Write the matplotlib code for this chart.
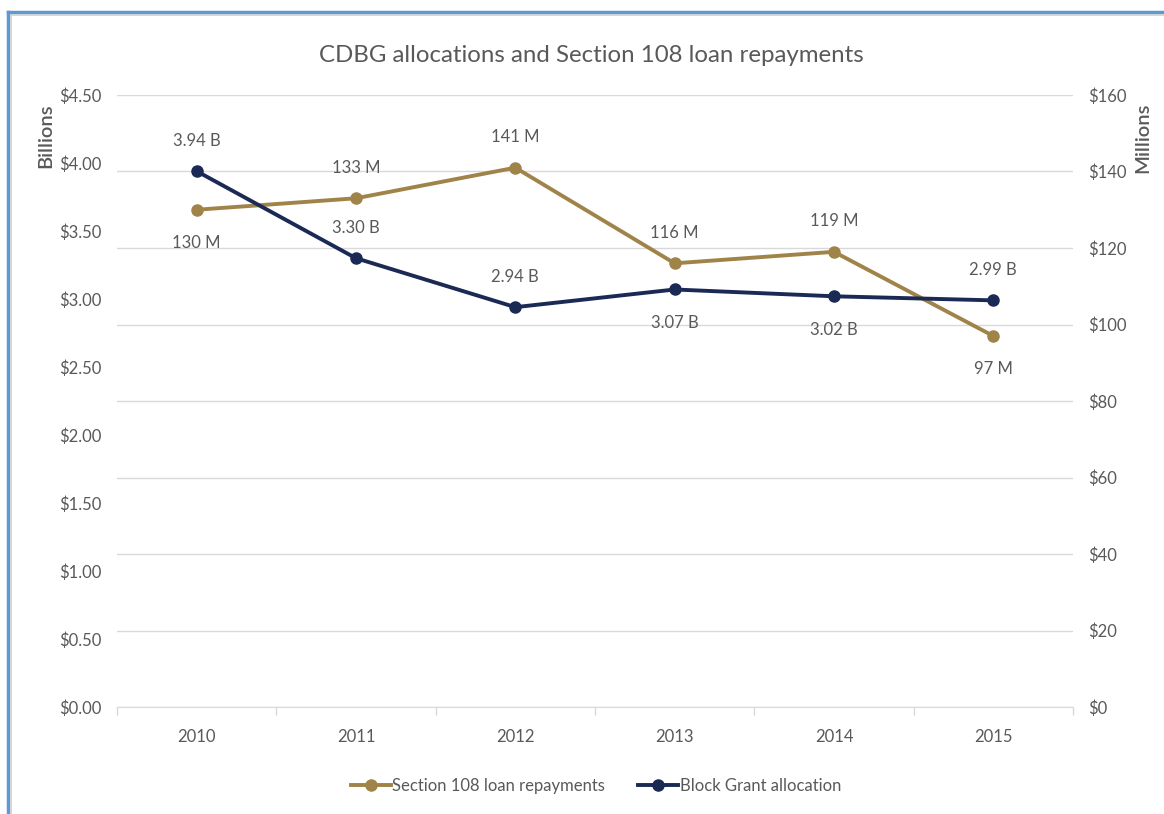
import matplotlib
matplotlib.use("Agg")
import matplotlib.pyplot as plt
from matplotlib.lines import Line2D

plt.rcParams['font.family'] = ['Lato', 'DejaVu Sans']

years = ['2010', '2011', '2012', '2013', '2014', '2015']
block_grant = [3.94, 3.30, 2.94, 3.07, 3.02, 2.99]      # billions
section108 = [130, 133, 141, 116, 119, 97]               # millions
block_labels = ['3.94 B', '3.30 B', '2.94 B', '3.07 B', '3.02 B', '2.99 B']
s108_labels = ['130 M', '133 M', '141 M', '116 M', '119 M', '97 M']
block_above = [True, True, True, False, False, True]
s108_above = [False, True, True, True, True, False]

gold = '#A08348'
navy = '#1B2A55'
txt = '#595959'
grid = '#D9D9D9'
lw = 2.8
ms = 8

fig = plt.figure(figsize=(11.64, 8.14), dpi=100)
ax = fig.add_axes([0.1005, 0.1314, 0.8213, 0.7519])
ax2 = ax.twinx()

x = list(range(len(years)))

# right axis (millions) owns the gridlines
ax2.set_ylim(0, 160)
ax2.set_yticks(range(0, 161, 20))
ax2.set_yticklabels(['$%d' % v for v in range(0, 161, 20)])
ax2.yaxis.grid(True, color=grid, linewidth=1)
ax2.set_axisbelow(True)

ax.set_ylim(0, 4.5)
ax.set_yticks([i * 0.5 for i in range(10)])
ax.set_yticklabels(['$%.2f' % (i * 0.5) for i in range(10)])
ax.set_xlim(-0.5, len(years) - 0.5)
ax.set_xticks(x)
ax.set_xticklabels(years)
ax.set_xticks([i - 0.5 for i in range(len(years) + 1)], minor=True)

for a in (ax, ax2):
    for s in ('top', 'left', 'right'):
        a.spines[s].set_visible(False)
    a.tick_params(axis='y', length=0, colors=txt, labelsize=12)
ax2.spines['bottom'].set_visible(False)
ax.spines['bottom'].set_color(grid)
ax.tick_params(axis='y', pad=11)
ax2.tick_params(axis='y', pad=11)
ax.tick_params(axis='x', which='major', length=0, colors=txt, labelsize=12, pad=16)
ax.tick_params(axis='x', which='minor', length=6, color=grid, width=1)

# lines: section 108 on right axis, block grant on left axis (drawn on top)
ax2.plot(x, section108, color=gold, linewidth=lw, marker='o', markersize=ms, zorder=3)
ax3 = ax.twinx()
ax3.set_ylim(0, 4.5)
ax3.axis('off')
ax3.plot(x, block_grant, color=navy, linewidth=lw, marker='o', markersize=ms, zorder=4)

for xi, v, lab, up in zip(x, section108, s108_labels, s108_above):
    ax2.annotate(lab, (xi, v), xytext=(0, 22 if up else -24), textcoords='offset points',
                 ha='center', va='center', fontsize=12, color=txt)
for xi, v, lab, up in zip(x, block_grant, block_labels, block_above):
    ax3.annotate(lab, (xi, v), xytext=(0, 22 if up else -24), textcoords='offset points',
                 ha='center', va='center', fontsize=12, color=txt)

fig.text(0.508, 0.932, 'CDBG allocations and Section 108 loan repayments',
         ha='center', va='center', fontsize=17.3, color=txt)
fig.text(0.039, 0.833, 'Billions', rotation=90, ha='center', va='center',
         fontsize=14.5, color=txt, fontweight='semibold')
fig.text(0.982, 0.831, 'Millions', rotation=90, ha='center', va='center',
         fontsize=14.5, color=txt, fontweight='semibold')

handles = [Line2D([], [], color=gold, linewidth=lw, marker='o', markersize=ms),
           Line2D([], [], color=navy, linewidth=lw, marker='o', markersize=ms)]
fig.legend(handles, ['Section 108 loan repayments', 'Block Grant allocation'],
           loc='center', bbox_to_anchor=(0.512, 0.035), ncol=2, frameon=False,
           fontsize=12, labelcolor=txt, handlelength=2.4, handletextpad=0.1,
           columnspacing=2.0)

# frame edge at top-left like the screenshot
fig.add_artist(Line2D([0.0072, 0.0072], [0, 0.9853], color='#5B9BD5', linewidth=2.5,
                      transform=fig.transFigure))
fig.add_artist(Line2D([0.0072, 1.0], [0.9853, 0.9853], color='#5B9BD5', linewidth=2.5,
                      transform=fig.transFigure))
fig.add_artist(Line2D([0.0098, 0.0098], [0, 0.982], color='#D0D0D0', linewidth=1.2,
                      transform=fig.transFigure))
fig.add_artist(Line2D([0.0098, 1.0], [0.982, 0.982], color='#D0D0D0', linewidth=1.2,
                      transform=fig.transFigure))

fig.savefig('out.png', dpi=100)
